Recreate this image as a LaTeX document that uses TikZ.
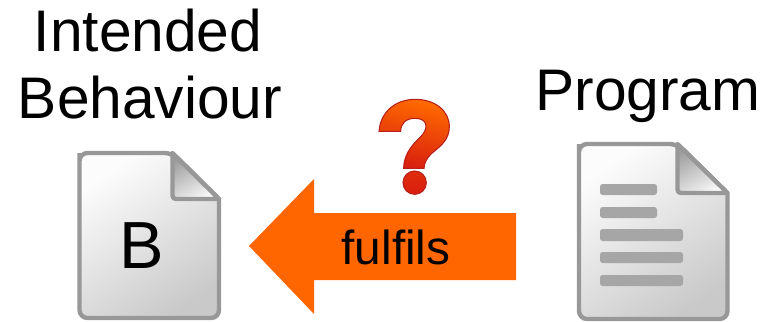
\documentclass[tikz,border=0pt]{standalone}
\usepackage{fontspec}
\setmainfont{Liberation Sans}
\definecolor{docedge}{HTML}{989898}
\definecolor{docline}{HTML}{A6A6A6}
\definecolor{arrowfill}{HTML}{FF6600}
\definecolor{qtop}{HTML}{FF6A00}
\definecolor{qbot}{HTML}{D81E10}
\definecolor{qedge}{HTML}{B8201A}
\tikzset{
  bigtext/.style={font=\fontsize{44pt}{50pt}\selectfont, inner sep=0pt, align=center, text=black},
  midtext/.style={font=\fontsize{35.8pt}{40pt}\selectfont, inner sep=0pt, text=black},
  docpage/.style={draw=docedge, line width=3.3pt, rounded corners=6pt, top color=white!99!black, bottom color=white!79!black, shading angle=35},
  docfold/.style={draw=docedge, line width=3.3pt, line join=round, rounded corners=2.5pt, top color=white!62!black, bottom color=white!97!black, shading angle=30},
  textbar/.style={fill=docline, rounded corners=2pt},
  qmark/.style={draw=qedge, line width=0.8pt, top color=qtop, bottom color=qbot, shading angle=-12}
}
\begin{document}
\begin{tikzpicture}[x=0.75pt,y=-0.75pt]
\useasboundingbox (0,0) rectangle (766,321);
\fill[white] (0,0) rectangle (766,321);
% left page
\shade[docpage] (79.5,161) [rounded corners=6pt] -- (79.5,153) -- (172.5,153) [sharp corners] -- (219,199) [rounded corners=6pt] -- (219,318) -- (79.5,318) -- cycle;
\shade[docfold] (172.5,153) -- (172.5,199) -- (219,199) [sharp corners] -- cycle;
\node[bigtext,font=\fontsize{50pt}{50pt}\selectfont] (bletter) at (141.5,246) {B};
% right page
\shade[docpage] (579,152) [rounded corners=6pt] -- (579,144) -- (677.5,144) [sharp corners] -- (727.5,193) [rounded corners=6pt] -- (727.5,319) -- (579,319) -- cycle;
\shade[docfold] (677.5,144) -- (677.5,193) -- (727.5,193) [sharp corners] -- cycle;
\fill[textbar] (600,184) rectangle (657,195);
\fill[textbar] (600,207) rectangle (657,218);
\fill[textbar] (600,229) rectangle (683,241);
\fill[textbar] (600,252) rectangle (683,263);
\fill[textbar] (600,275) rectangle (683,286);
% arrow
\fill[arrowfill] (249,246) -- (314,179) -- (314,213) -- (516,213) -- (516,280) -- (314,280) -- (314,314) -- cycle;
\node[midtext] (lab) at (396,247) {fulfils};
% titles
\node[bigtext] (t1) at (148,31) {Intended};
\node[bigtext] (t2) at (150,98) {Behaviour};
\node[bigtext] (t3) at (648,96) {Program};
% question mark
\begin{scope}[shift={(360,90)},x=0.25pt,y=-0.25pt]
\shade[qmark] (57,124) .. controls (62,62) and (110,28) .. (165,28)
  .. controls (225,28) and (268,62) .. (268,110)
  .. controls (268,150) and (240,170) .. (215,190)
  .. controls (200,205) and (193,218) .. (192,235)
  -- (131,235)
  .. controls (131,200) and (150,170) .. (180,142)
  .. controls (205,120) and (207,85) .. (165,85)
  .. controls (138,85) and (122,100) .. (122,124) -- cycle;
\shade[qmark,top color=qbot!80!qtop,bottom color=qbot] (164,278) circle (35);
\end{scope}
\end{tikzpicture}
\end{document}
